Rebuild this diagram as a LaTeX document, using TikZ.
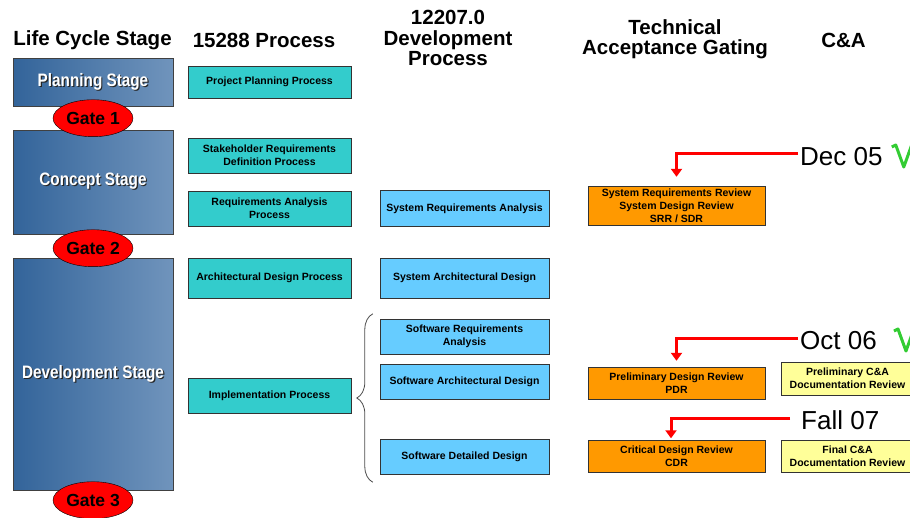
\documentclass[tikz,border=0pt]{standalone}
\usepackage{fontspec}
\setmainfont{Liberation Sans}
\newfontfamily\narrowsf[FakeStretch=0.85]{Liberation Sans}
\usetikzlibrary{arrows.meta,positioning,shapes.geometric,decorations.pathreplacing}
\definecolor{stagedark}{HTML}{33649A}
\definecolor{stagelight}{HTML}{7094BC}
\definecolor{procteal}{HTML}{33CCCC}
\definecolor{devblue}{HTML}{66CCFF}
\definecolor{revorange}{HTML}{FF9900}
\definecolor{capale}{HTML}{FFFF99}
\definecolor{okgreen}{HTML}{33CC33}
\newcommand\shadowed[1]{\makebox[0pt][l]{\kern1.2pt\raisebox{-1.2pt}{\color{black!85}#1}}#1}
\tikzset{
  stagebox/.style={draw=black!75,left color=stagedark,right color=stagelight,text=white,
    font=\narrowsf\bfseries\fontsize{18}{18}\selectfont,minimum width=160pt,inner sep=0pt},
  gate/.style={ellipse,draw=black,fill=red,font=\bfseries\fontsize{17.5}{17.5}\selectfont,
    minimum width=80pt,minimum height=37pt,inner sep=0pt},
  box/.style={draw=black!80,align=center,font=\bfseries\fontsize{10.5}{13}\selectfont,inner sep=0pt},
  proc/.style={box,fill=procteal,minimum width=163pt},
  devproc/.style={box,fill=devblue,minimum width=169pt},
  review/.style={box,fill=revorange,minimum width=177pt},
  cabox/.style={box,fill=capale,minimum width=133pt},
  head/.style={align=center,font=\bfseries\fontsize{20.5}{20.5}\selectfont},
  datelbl/.style={font=\fontsize{26}{26}\selectfont,inner xsep=2pt,inner ysep=0pt,anchor=west},
  gatearrow/.style={draw=red,line width=3pt,-{Triangle[width=11pt,length=8pt]}},
  okmark/.style={draw=okgreen,line width=3pt,line join=round},
  brace/.style={decorate,decoration={brace,amplitude=16pt},draw=black!70,line width=0.8pt}
}
\begin{document}
\begin{tikzpicture}[x=1pt,y=-1pt,node distance=5em,on grid]
  \useasboundingbox (0,0) rectangle (910,517);
  \clip (0,0) rectangle (910,517);
  \node[head] (hlife) at (92.5,40) {Life Cycle Stage};
  \node[head] (hiso) at (264,40) {15288 Process};
  \node[head] (hdev) at (448,38) {12207.0\\Development\\Process};
  \node[head] (htech) at (675,39) {Technical\\Acceptance Gating};
  \node[head] (hca) at (843.5,40) {C\&A};

  \node[stagebox,minimum height=48pt] (plan) at (93,82) {\shadowed{Planning Stage}};
  \node[stagebox,minimum height=104pt] (concept) at (93,182) {\shadowed{Concept Stage}};
  \node[stagebox,minimum height=232pt] (devel) at (93,374) {\shadowed{Development Stage}};
  \node[gate] (gate1) at ([yshift=-12pt]plan.south) {Gate 1};
  \node[gate] (gate2) at ([yshift=-14pt]concept.south) {Gate 2};
  \node[gate] (gate3) at ([yshift=-10pt]devel.south) {Gate 3};

  \node[proc,minimum height=32pt] (ppp) at (269.5,82) {Project Planning Process};
  \node[proc,minimum height=35pt] (srd) at (269.5,155.5) {Stakeholder Requirements\\Definition Process};
  \node[proc,minimum height=35pt] (rap) at (269.5,208.5) {Requirements Analysis\\Process};
  \node[proc,minimum height=40pt] (adp) at (269.5,278) {Architectural Design Process};
  \node[proc,minimum height=35pt] (imp) at (269.5,395.5) {Implementation Process};

  \node[devproc,minimum height=36pt,right=195pt of rap] (sra) {System Requirements Analysis};
  \node[devproc,minimum height=40pt,right=195pt of adp] (sad) {System Architectural Design};
  \node[devproc,minimum height=35pt] (swra) at (464.5,336.5) {Software Requirements\\Analysis};
  \node[devproc,minimum height=35pt] (swad) at (464.5,381.5) {Software Architectural Design};
  \node[devproc,minimum height=35pt] (swdd) at (464.5,456.5) {Software Detailed Design};

  \node[review,minimum height=39pt] (srr) at (676.5,205.5) {System Requirements Review\\System Design Review\\SRR / SDR};
  \node[review,minimum height=32pt] (pdr) at (676.5,383) {Preliminary Design Review\\PDR};
  \node[review,minimum height=32pt,right=212pt of swdd] (cdr) {Critical Design Review\\CDR};
  \node[cabox,minimum height=33pt] (pca) at (847.5,378.5) {Preliminary C\&A\\Documentation Review};
  \node[cabox,minimum height=32pt,right=171pt of cdr] (fca) {Final C\&A\\Documentation Review};

  \node[datelbl] (dec) at (798,157) {Dec 05};
  \node[datelbl] (oct) at (798,341) {Oct 06};
  \node[datelbl] (fall) at (799,420) {Fall 07};

  \draw[brace] ([shift={(-7,8)}]swdd.south west) -- ([shift={(-7,-5)}]swra.north west);
  \draw[gatearrow] ([yshift=4pt]dec.west) -| ([yshift=9pt]srr.north);
  \draw[gatearrow] ([yshift=3pt]oct.west) -| ([yshift=6pt]pdr.north);
  \draw[gatearrow] ([shift={(-9,-2)}]fall.west) -| ([shift={(-5.5,-2)}]cdr.north);
  \draw[okmark] ([shift={(7,-10)}]dec.east) -- ++(4,-2) -- ++(8,22) -- ++(14,-39);
  \draw[okmark] ([shift={(15,-10)}]oct.east) -- ++(4,-2) -- ++(8,22) -- ++(14,-39);
\end{tikzpicture}
\end{document}
